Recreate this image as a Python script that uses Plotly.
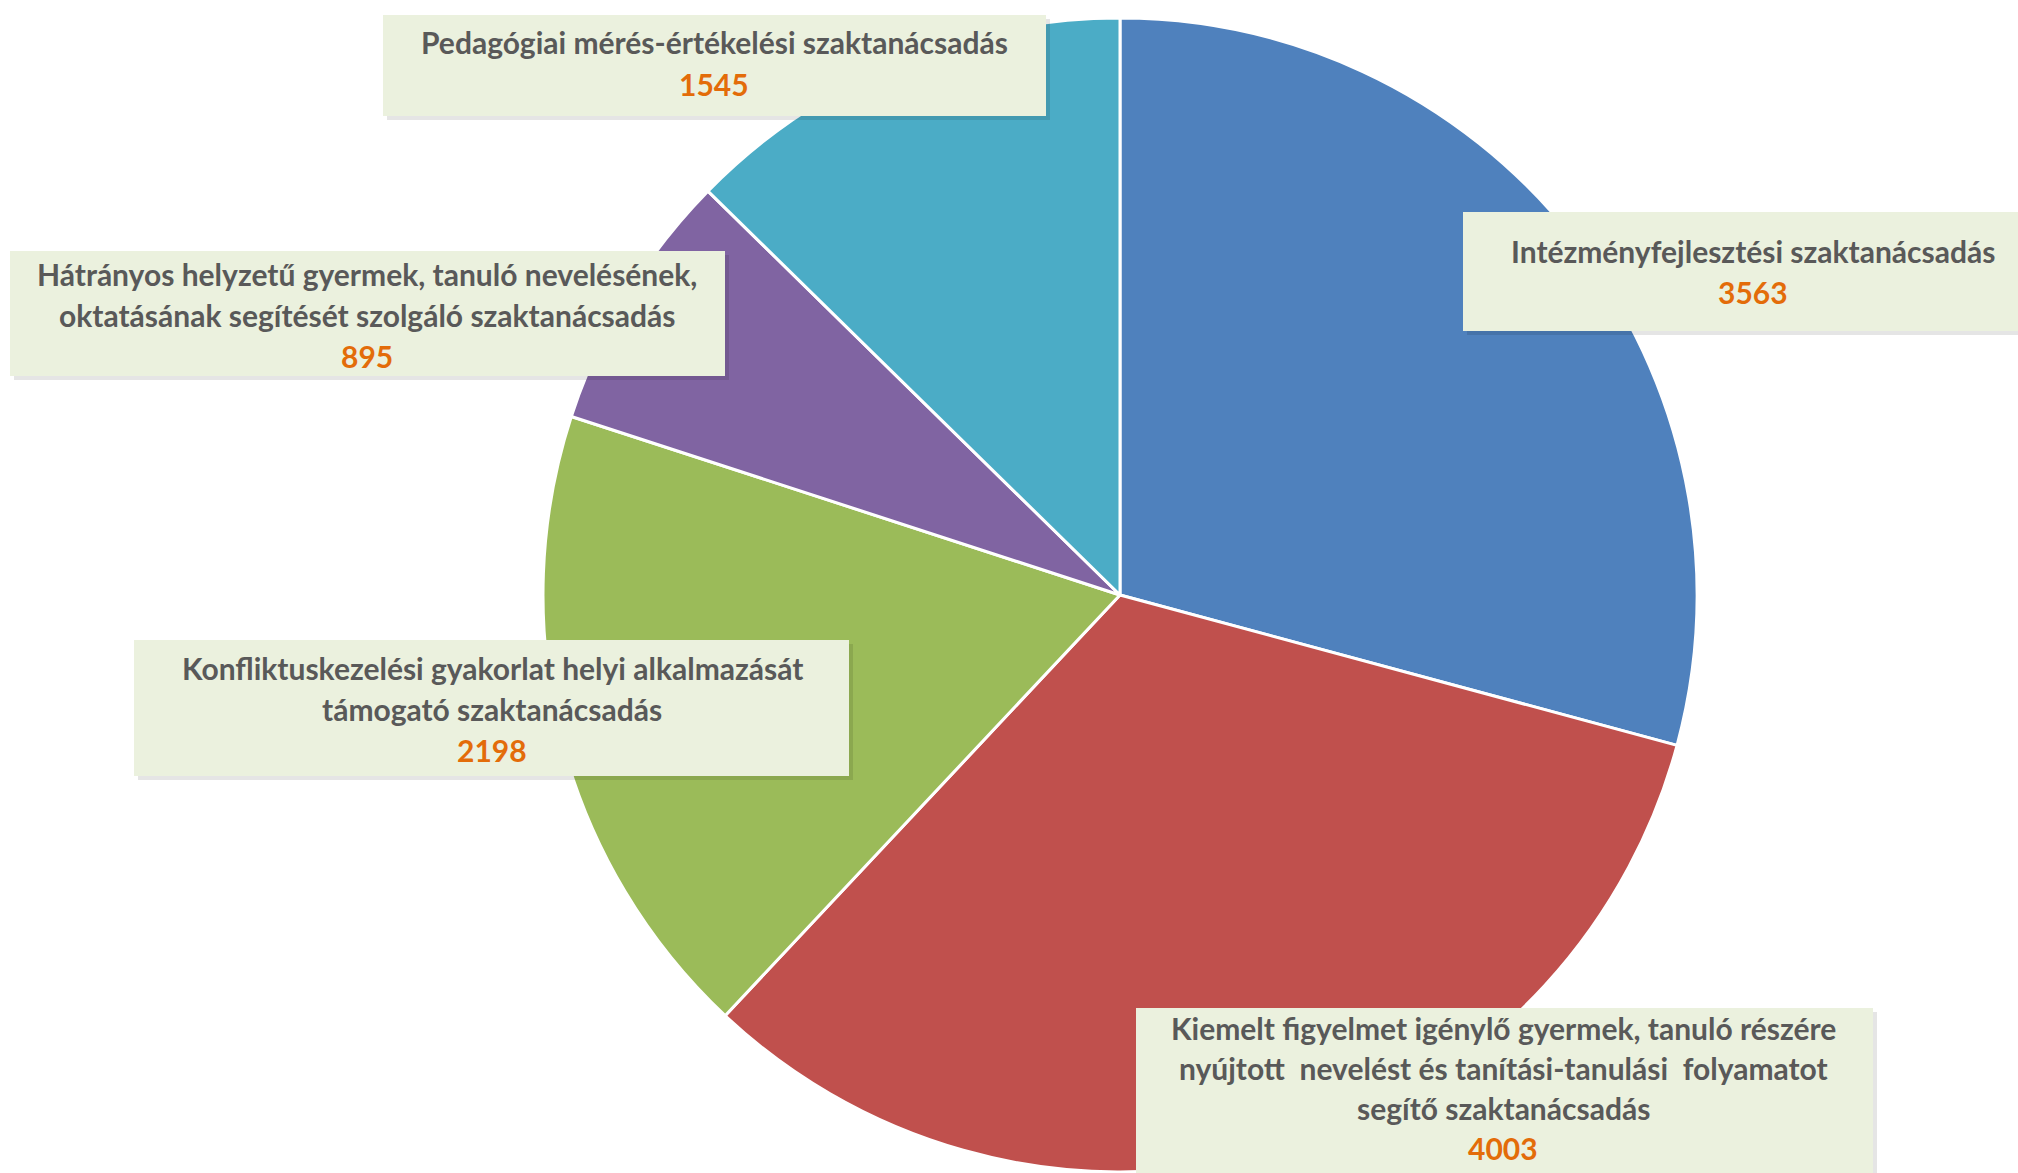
import plotly.graph_objects as go

# ---- data ----
categories = [
    "Intézményfejlesztési szaktanácsadás",
    "Kiemelt figyelmet igénylő gyermek, tanuló részére nyújtott nevelést és tanítási-tanulási  folyamatot segítő szaktanácsadás",
    "Konfliktuskezelési gyakorlat helyi alkalmazását támogató szaktanácsadás",
    "Hátrányos helyzetű gyermek, tanuló nevelésének, oktatásának segítését szolgáló szaktanácsadás",
    "Pedagógiai mérés-értékelési szaktanácsadás",
]
values = [3563, 4003, 2198, 895, 1545]
label_lines = [
    ["Intézményfejlesztési szaktanácsadás"],
    ["Kiemelt figyelmet igénylő gyermek, tanuló részére",
     "nyújtott  nevelést és tanítási-tanulási  folyamatot",
     "segítő szaktanácsadás"],
    ["Konfliktuskezelési gyakorlat helyi alkalmazását",
     "támogató szaktanácsadás"],
    ["Hátrányos helyzetű gyermek, tanuló nevelésének,",
     "oktatásának segítését szolgáló szaktanácsadás"],
    ["Pedagógiai mérés-értékelési szaktanácsadás"],
]
colors = ["#4F81BD", "#C0504D", "#9BBB59", "#8064A2", "#4BACC6"]

# ---- layout (pixel geometry) ----
W, H = 2018, 1173
# label boxes: x0, y0, x1, y1 (pixels from top-left of window), text center x, first line y, line step
boxes = [
    (1463, 212, 2030, 331, 1753, 251, 41),
    (1136, 1008, 1873, 1185, 1503, 1028, 40),
    (134, 640, 849, 776, 492, 668, 41),
    (10, 251, 725, 376, 367, 274, 41),
    (383, 15, 1046, 116, 714, 42, 42),
]


def px(x):
    return x / W


def py(y):
    return 1 - y / H


fig = go.Figure()
fig.add_trace(go.Pie(
    labels=categories,
    values=values,
    sort=False,
    direction="clockwise",
    rotation=0,
    textinfo="none",
    hoverinfo="label+value",
    marker=dict(colors=colors, line=dict(color="white", width=3)),
    domain=dict(x=[px(543), px(1697)], y=[py(1173), py(17)]),
    showlegend=False,
))

shapes = []
annotations = []
font_family = "Lato, 'Open Sans', sans-serif"
for (x0, y0, x1, y1, cx, ly, step), lines, val in zip(boxes, label_lines, values):
    shapes.append(dict(type="rect", xref="paper", yref="paper",
                       x0=px(x0 + 4), x1=px(x1 + 4), y0=py(y1 + 4), y1=py(y0 + 4),
                       fillcolor="rgba(0,0,0,0.10)", line=dict(width=0), layer="above"))
    shapes.append(dict(type="rect", xref="paper", yref="paper",
                       x0=px(x0), x1=px(x1), y0=py(y1), y1=py(y0),
                       fillcolor="#EBF1DE", line=dict(width=0), layer="above"))
    for i, t in enumerate(lines + [str(val)]):
        is_num = i == len(lines)
        annotations.append(dict(
            x=px(cx), y=py(ly + i * step), xref="paper", yref="paper",
            text=t, showarrow=False, xanchor="center", yanchor="middle",
            font=dict(family=font_family, size=30, weight="bold",
                      color="#E36C09" if is_num else "#595959"),
        ))

fig.update_layout(
    width=W, height=H,
    margin=dict(l=0, r=0, t=0, b=0),
    paper_bgcolor="white",
    plot_bgcolor="white",
    shapes=shapes,
    annotations=annotations,
)

fig.write_html("out.html", config={"displayModeBar": False},
               post_script="document.body.style.margin='0';")
